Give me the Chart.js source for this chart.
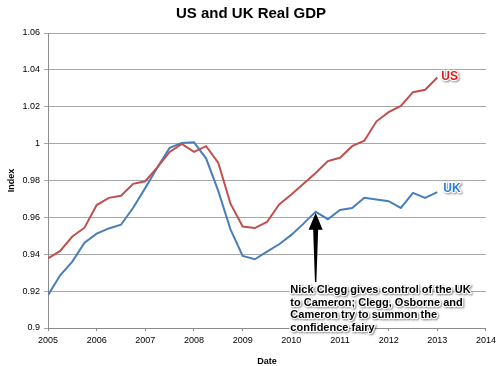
<!DOCTYPE html>
<html lang="en">
<head>
    <meta charset="UTF-8">
    <title>US and UK Real GDP</title>
    <script src="https://cdn.jsdelivr.net/npm/chart.js"></script>
    <style>
        body {
            margin: 0;
            padding: 0;
            background-color: #ffffff;
        }
        .wrap {
            width: 500px;
            height: 366px;
        }
    </style>
</head>
<body>
    <div class="wrap">
        <canvas id="gdpChart" width="500" height="366"></canvas>
    </div>

    <script>
        // quarterly dates, 2005 Q1 to 2013 Q1
        const quarters = [
            2005, 2005.25, 2005.5, 2005.75, 2006, 2006.25, 2006.5, 2006.75,
            2007, 2007.25, 2007.5, 2007.75, 2008, 2008.25, 2008.5, 2008.75,
            2009, 2009.25, 2009.5, 2009.75, 2010, 2010.25, 2010.5, 2010.75,
            2011, 2011.25, 2011.5, 2011.75, 2012, 2012.25, 2012.5, 2012.75,
            2013
        ];
        const usGdp = [
            0.9378, 0.9418, 0.9496, 0.9544, 0.9667, 0.9706, 0.9717, 0.9782,
            0.9796, 0.9872, 0.9955, 0.9998, 0.9955, 0.9986, 0.9895, 0.9674,
            0.9550, 0.9542, 0.9575, 0.9670, 0.9724, 0.9782, 0.9841, 0.9905,
            0.9923, 0.9986, 1.0016, 1.0121, 1.0171, 1.0205, 1.0279, 1.0292,
            1.0359
        ];
        const ukGdp = [
            0.9178, 0.9286, 0.9360, 0.9463, 0.9512, 0.9540, 0.9560, 0.9652,
            0.9760, 0.9872, 0.9977, 1.0004, 1.0007, 0.9919, 0.9742, 0.9535,
            0.9391, 0.9373, 0.9414, 0.9454, 0.9505, 0.9566, 0.9631, 0.9590,
            0.9640, 0.9651, 0.9706, 0.9697, 0.9688, 0.9651, 0.9733, 0.9706,
            0.9737
        ];
        const yearTicks = [2005, 2006, 2007, 2008, 2009, 2010, 2011, 2012, 2013, 2014];
        const indexTicks = [0.9, 0.92, 0.94, 0.96, 0.98, 1, 1.02, 1.04, 1.06];
        const indexLabels = ['0.9', '0.92', '0.94', '0.96', '0.98', '1', '1.02', '1.04', '1.06'];

        const chartTitle = 'US and UK Real GDP';
        const noteLines = [
            'Nick Clegg gives control of the UK',
            'to Cameron; Clegg, Osborne and',
            'Cameron try to summon the',
            'confidence fairy'
        ];
        const noteIndex = 22;      // UK point the arrow points at
        const noteAnchor = { x: 2009.98, y: 0.9206 };

        const FONT = '"Liberation Sans", Arial, sans-serif';

        function toPoints(values) {
            return values.map((v, i) => ({ x: quarters[i], y: v }));
        }

        function shadowText(ctx, text, x, y, fill) {
            ctx.save();
            ctx.shadowColor = 'rgba(0,0,0,0.45)';
            ctx.shadowOffsetX = 1;
            ctx.shadowOffsetY = 1;
            ctx.shadowBlur = 2;
            ctx.lineWidth = 2.5;
            ctx.lineJoin = 'round';
            ctx.strokeStyle = '#ffffff';
            ctx.strokeText(text, x, y);
            ctx.restore();
            ctx.fillStyle = fill;
            ctx.fillText(text, x, y);
        }

        // title, series labels, arrow and the note
        const notesPlugin = {
            id: 'notes',
            afterDatasetsDraw(chart) {
                const ctx = chart.ctx;
                const xs = chart.scales.x;
                const ys = chart.scales.y;
                const last = quarters.length - 1;

                ctx.save();
                ctx.font = 'bold 15px ' + FONT;
                ctx.fillStyle = '#000000';
                ctx.textAlign = 'center';
                ctx.textBaseline = 'middle';
                ctx.fillText(chartTitle, chart.width / 2 + 1, 14);

                ctx.font = 'bold 12px ' + FONT;
                ctx.textAlign = 'left';
                shadowText(ctx, 'US', xs.getPixelForValue(quarters[last]) + 4,
                    ys.getPixelForValue(usGdp[last]) - 1, '#e8161b');
                shadowText(ctx, 'UK', xs.getPixelForValue(quarters[last]) + 6,
                    ys.getPixelForValue(ukGdp[last]) - 3, '#2a7de1');

                // tapered arrow
                const tipX = xs.getPixelForValue(quarters[noteIndex]);
                const tipY = ys.getPixelForValue(ukGdp[noteIndex]) + 1;
                const baseY = ys.getPixelForValue(0.925);
                ctx.fillStyle = '#000000';
                ctx.beginPath();
                ctx.moveTo(tipX, tipY);
                ctx.lineTo(tipX + 7, tipY + 17);
                ctx.lineTo(tipX + 2.5, tipY + 17);
                ctx.lineTo(tipX + 0.7, baseY);
                ctx.lineTo(tipX - 0.7, baseY);
                ctx.lineTo(tipX - 2.5, tipY + 17);
                ctx.lineTo(tipX - 7, tipY + 17);
                ctx.closePath();
                ctx.fill();

                ctx.font = 'bold 11px ' + FONT;
                const nx = xs.getPixelForValue(noteAnchor.x);
                const ny = ys.getPixelForValue(noteAnchor.y);
                noteLines.forEach((line, i) => {
                    shadowText(ctx, line, nx, ny + i * 12.7, '#000000');
                });
                ctx.restore();
            }
        };

        const ctx = document.getElementById('gdpChart').getContext('2d');
        new Chart(ctx, {
            type: 'line',
            data: {
                datasets: [{
                    label: 'US',
                    data: toPoints(usGdp),
                    borderColor: '#c0504d',
                    borderWidth: 2,
                    pointRadius: 0,
                    tension: 0,
                    fill: false
                }, {
                    label: 'UK',
                    data: toPoints(ukGdp),
                    borderColor: '#4a7ebb',
                    borderWidth: 2,
                    pointRadius: 0,
                    tension: 0,
                    fill: false
                }]
            },
            options: {
                responsive: false,
                animation: false,
                layout: { padding: { left: 0, right: 14, top: 33, bottom: 0 } },
                plugins: {
                    legend: { display: false },
                    tooltip: { enabled: false },
                    title: { display: false }
                },
                scales: {
                    x: {
                        type: 'linear',
                        min: 2005,
                        max: 2014,
                        afterBuildTicks: s => { s.ticks = yearTicks.map(v => ({ value: v })); },
                        afterFit: s => { s.height = 38; },
                        ticks: {
                            callback: v => String(v),
                            color: '#000000',
                            font: { family: FONT, size: 9 },
                            padding: 4,
                            maxRotation: 0
                        },
                        grid: { drawOnChartArea: false, tickLength: 3, color: '#8c8c8c' },
                        border: { color: '#8c8c8c' },
                        title: {
                            display: true,
                            text: 'Date',
                            color: '#000000',
                            font: { family: FONT, size: 9, weight: 'bold', lineHeight: 1 },
                            padding: { top: 0, bottom: 0 }
                        }
                    },
                    y: {
                        min: 0.9,
                        max: 1.06,
                        afterBuildTicks: s => { s.ticks = indexTicks.map(v => ({ value: v })); },
                        afterFit: s => { s.width = 48; },
                        ticks: {
                            callback: (v, i) => indexLabels[i],
                            color: '#000000',
                            font: { family: FONT, size: 9 },
                            padding: 4
                        },
                        grid: { color: '#a8a8a8', tickLength: 4 },
                        border: { color: '#8c8c8c' },
                        title: {
                            display: true,
                            text: 'Index',
                            color: '#000000',
                            font: { family: FONT, size: 9, weight: 'bold', lineHeight: 1 },
                            padding: { top: 7, bottom: 0 }
                        }
                    }
                }
            },
            plugins: [notesPlugin]
        });
    </script>
</body>
</html>
